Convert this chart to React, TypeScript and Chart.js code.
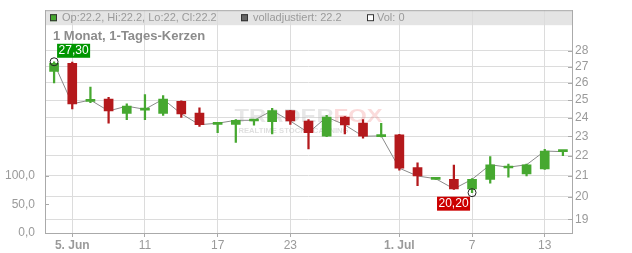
import { useEffect, useRef } from 'react';
import { Chart, registerables } from 'chart.js';

Chart.register(...registerables);

const dates = ["4. Jun", "5. Jun", "8. Jun", "9. Jun", "10. Jun", "11. Jun", "12. Jun", "15. Jun", "16. Jun", "17. Jun", "18. Jun", "19. Jun", "22. Jun", "23. Jun", "24. Jun", "25. Jun", "26. Jun", "29. Jun", "30. Jun", "1. Jul", "2. Jul", "3. Jul", "6. Jul", "7. Jul", "8. Jul", "9. Jul", "10. Jul", "13. Jul", "14. Jul"];
const opens = [26.70, 27.20, 24.92, 25.05, 24.24, 24.43, 24.24, 24.93, 24.26, 23.64, 23.64, 23.82, 23.78, 24.40, 23.82, 23.00, 24.04, 23.71, 22.98, 23.08, 21.40, 20.83, 20.83, 20.38, 20.83, 21.38, 21.09, 21.34, 22.20];
const highs = [27.30, 27.28, 25.75, 25.15, 24.78, 25.31, 25.25, 24.95, 24.55, 23.72, 23.90, 23.90, 24.52, 24.42, 23.90, 24.14, 24.06, 23.90, 23.70, 23.10, 21.63, 20.88, 21.52, 20.87, 21.95, 21.58, 21.58, 22.32, 22.20];
const lows = [26.00, 24.50, 24.85, 23.70, 23.89, 23.89, 24.13, 24.02, 23.53, 23.19, 22.67, 23.60, 23.13, 23.64, 22.34, 22.98, 23.12, 22.90, 22.96, 21.27, 20.53, 20.82, 20.35, 20.20, 20.65, 20.93, 21.00, 21.31, 22.00];
const closes = [27.20, 24.78, 25.00, 24.38, 24.65, 24.47, 25.05, 24.22, 23.62, 23.70, 23.86, 23.86, 24.40, 23.82, 23.19, 24.04, 23.61, 23.00, 23.02, 21.37, 20.99, 20.86, 20.38, 20.83, 21.54, 21.42, 21.54, 22.23, 22.20];
const volumes = [0, 0, 0, 0, 0, 0, 0, 0, 0, 0, 0, 0, 0, 0, 0, 0, 0, 0, 0, 0, 0, 0, 0, 0, 0, 0, 0, 0, 0];
const tickDates = ["5. Jun", "11. Jun", "17. Jun", "23. Jun", "1. Jul", "7. Jul", "13. Jul"];
const tickLabels = ["5. Jun", "11", "17", "23", "1. Jul", "7", "13"];
const priceTicks = [19, 20, 21, 22, 23, 24, 25, 26, 27, 28];
const volumeTicks = [0, 50, 100];
const headerOHLC = "Op:22.2, Hi:22.2, Lo:22, Cl:22.2";
const headerAdj = "volladjustiert: 22.2";
const headerVol = "Vol: 0";
const titleText = "1 Monat, 1-Tages-Kerzen";

const FONT = "'Liberation Sans', Arial, sans-serif";
const GREEN = '#46a830';
const RED = '#b4191c';
const GRID = '#dcdcdc';
const AXIS = '#aaaaaa';
const TEXT = '#9a9a9a';

const fmtDE = (v: number) => v.toFixed(2).replace('.', ',');

const decor = {
  id: 'decor',
  beforeDraw(chart: any) {
    const { ctx, chartArea: a } = chart;
    ctx.save();
    ctx.fillStyle = '#e4e4e4';
    ctx.fillRect(a.left, a.top, a.right - a.left, 15);
    ctx.restore();
  },
  beforeDatasetsDraw(chart: any) {
    const { ctx, chartArea: a } = chart;
    const cx = (a.left + a.right) / 2;
    const cy = (a.top + a.bottom) / 2;
    ctx.save();
    ctx.textBaseline = 'middle';
    ctx.font = `bold 18px ${FONT}`;
    const w1 = ctx.measureText('TRADER').width;
    const w2 = ctx.measureText('FOX').width;
    const total = w1 + w2;
    const target = 148;
    const sx = target / total;
    ctx.translate(cx - target / 2, cy - 5);
    ctx.scale(sx, 1);
    ctx.fillStyle = 'rgba(185,185,185,0.35)';
    ctx.textAlign = 'left';
    ctx.fillText('TRADER', 0, 0);
    ctx.fillStyle = 'rgba(240,110,110,0.25)';
    ctx.fillText('FOX', w1, 0);
    ctx.restore();
    ctx.save();
    ctx.font = `bold 7px ${FONT}`;
    ctx.textBaseline = 'middle';
    const sub = 'REALTIME STOCK SCANNING';
    const ws = ctx.measureText(sub).width;
    ctx.translate(cx - 70, cy + 9);
    ctx.scale(110 / ws, 1);
    ctx.fillStyle = 'rgba(185,185,185,0.45)';
    ctx.fillText(sub, 0, 0);
    ctx.restore();
  },
  afterDatasetsDraw(chart: any) {
    const { ctx } = chart;
    const xs = chart.scales.x;
    const ys = chart.scales.y;
    let hi = 0, lo = 0;
    highs.forEach((h, i) => { if (h > highs[hi]) hi = i; });
    lows.forEach((l, i) => { if (l < lows[lo]) lo = i; });
    const hx = xs.getPixelForValue(hi);
    const hy = ys.getPixelForValue(highs[hi]);
    const lx = xs.getPixelForValue(lo);
    const ly = ys.getPixelForValue(lows[lo]);
    ctx.save();
    ctx.strokeStyle = '#222';
    ctx.lineWidth = 1;
    [[hx, hy], [lx, ly]].forEach(([x, y]) => {
      ctx.beginPath();
      ctx.arc(x, y, 4, 0, Math.PI * 2);
      ctx.stroke();
    });
    ctx.font = `12px ${FONT}`;
    ctx.textBaseline = 'middle';
    ctx.textAlign = 'left';
    const t1 = fmtDE(highs[hi]);
    const w1 = ctx.measureText(t1).width + 3;
    ctx.fillStyle = '#009600';
    ctx.fillRect(hx + 3, hy - 4 - 14, w1, 14);
    ctx.fillStyle = '#ffffff';
    ctx.fillText(t1, hx + 3 + 1.5, hy - 4 - 7);
    const t2 = fmtDE(lows[lo]);
    const w2 = ctx.measureText(t2).width + 3;
    ctx.fillStyle = '#cc0000';
    ctx.fillRect(lx - 2 - w2, ly + 4, w2, 14);
    ctx.fillStyle = '#ffffff';
    ctx.fillText(t2, lx - 2 - w2 + 1.5, ly + 4 + 7);
    ctx.restore();
  },
  afterDraw(chart: any) {
    const { ctx, chartArea: a } = chart;
    const ys = chart.scales.y;
    const yv = chart.scales.yv;
    ctx.save();
    ctx.strokeStyle = AXIS;
    ctx.lineWidth = 1;
    ctx.beginPath();
    ctx.moveTo(a.left, a.top + 0.5);
    ctx.lineTo(a.right, a.top + 0.5);
    priceTicks.forEach(v => {
      const y = Math.round(ys.getPixelForValue(v)) + 0.5;
      ctx.moveTo(a.right - 4, y);
      ctx.lineTo(a.right, y);
    });
    volumeTicks.forEach(v => {
      const y = Math.round(yv.getPixelForValue(v)) + 0.5;
      ctx.moveTo(a.left, y);
      ctx.lineTo(a.left + 4, y);
    });
    ctx.stroke();
    // header legend
    const hy = a.top + 7.5;
    const box = (x: number, fill: string) => {
      ctx.fillStyle = fill;
      ctx.fillRect(x, hy - 3.5, 7, 7);
      ctx.strokeStyle = '#333';
      ctx.strokeRect(x + 0.5, hy - 3.5 + 0.5, 6, 6);
    };
    box(a.left + 5, GREEN);
    box(a.left + 196, '#666666');
    box(a.left + 322, '#ffffff');
    ctx.font = `11px ${FONT}`;
    ctx.fillStyle = TEXT;
    ctx.textBaseline = 'middle';
    ctx.textAlign = 'left';
    ctx.fillText(headerOHLC, a.left + 17, hy + 0.5);
    ctx.fillText(headerAdj, a.left + 208, hy + 0.5);
    ctx.fillText(headerVol, a.left + 332, hy + 0.5);
    ctx.font = `bold 13px ${FONT}`;
    ctx.fillStyle = '#8c8c8c';
    ctx.fillText(titleText, a.left + 8, a.top + 26);
    ctx.restore();
  },
};

export default function App() {
  const ref = useRef<HTMLCanvasElement | null>(null);
  useEffect(() => {
    document.body.style.margin = '0';
    const canvas = ref.current;
    if (!canvas) return;
    const bodies = opens.map((o, i) => [Math.min(o, closes[i]), Math.max(o, closes[i])]);
    const wicks = lows.map((l, i) => [l, highs[i]]);
    const colors = opens.map((o, i) => (closes[i] >= o ? GREEN : RED));
    const chart = new Chart(canvas, {
      type: 'bar',
      data: {
        labels: dates,
        datasets: [
          {
            type: 'bar',
            label: 'body',
            data: bodies as any,
            backgroundColor: colors,
            barThickness: 9,
            minBarLength: 2,
            grouped: false,
            yAxisID: 'y',
            order: 1,
          } as any,
          {
            type: 'bar',
            label: 'wick',
            data: wicks as any,
            backgroundColor: colors,
            barThickness: 1.6,
            grouped: false,
            yAxisID: 'y',
            order: 2,
          } as any,
          {
            type: 'line',
            label: 'close',
            data: closes,
            borderColor: '#8a8a8a',
            borderWidth: 1,
            pointRadius: 0,
            yAxisID: 'y',
            order: 3,
          } as any,
          {
            type: 'bar',
            label: 'vol',
            data: volumes,
            backgroundColor: '#999',
            grouped: false,
            yAxisID: 'yv',
            order: 4,
          } as any,
        ],
      },
      options: {
        animation: false,
        responsive: false,
        maintainAspectRatio: false,
        layout: { padding: { top: 8, left: 0, right: 0, bottom: 0 } },
        plugins: { legend: { display: false }, tooltip: { enabled: false } },
        scales: {
          x: {
            type: 'category',
            offset: true,
            grid: { color: GRID, tickLength: 4, tickColor: AXIS, offset: false },
            border: { color: AXIS },
            ticks: {
              autoSkip: false,
              maxRotation: 0,
              color: TEXT,
              padding: 1,
              font: (c: any) => {
                const v = c.tick ? c.tick.value : 0;
                const lab = tickLabels[tickDates.indexOf(dates[v])] || '';
                return { family: FONT, size: 12, weight: lab.includes('.') ? 'bold' : 'normal' };
              },
              callback: (v: any) => tickLabels[tickDates.indexOf(dates[v])] || '',
            },
            afterBuildTicks: (s: any) => {
              s.ticks = s.ticks.filter((t: any) => tickDates.includes(dates[t.value]));
            },
            afterFit: (s: any) => { s.height = 20; },
          },
          y: {
            type: 'logarithmic',
            position: 'right',
            min: 18.41,
            max: 30.74,
            grid: { color: GRID, drawTicks: false },
            border: { color: AXIS },
            ticks: {
              color: TEXT,
              padding: 3,
              font: { family: FONT, size: 12 },
              callback: (v: any) => String(v),
            },
            afterBuildTicks: (s: any) => {
              s.ticks = priceTicks.map(v => ({ value: v }));
            },
            afterFit: (s: any) => { s.width = 60; },
          },
          yv: {
            type: 'linear',
            position: 'left',
            min: 0,
            max: 388,
            grid: { display: false },
            border: { color: AXIS, display: true },
            ticks: {
              color: TEXT,
              padding: 2,
              font: { family: FONT, size: 12 },
              callback: (v: any) => Number(v).toFixed(1).replace('.', ','),
            },
            afterBuildTicks: (s: any) => {
              s.ticks = volumeTicks.map(v => ({ value: v }));
            },
            afterFit: (s: any) => { s.width = 45; },
          },
        },
      } as any,
      plugins: [decor],
    });
    return () => chart.destroy();
  }, []);
  return (
    <div style={{ width: 632, height: 253 }}>
      <canvas ref={ref} width={632} height={253} style={{ display: 'block', width: 632, height: 253 }} />
    </div>
  );
}
